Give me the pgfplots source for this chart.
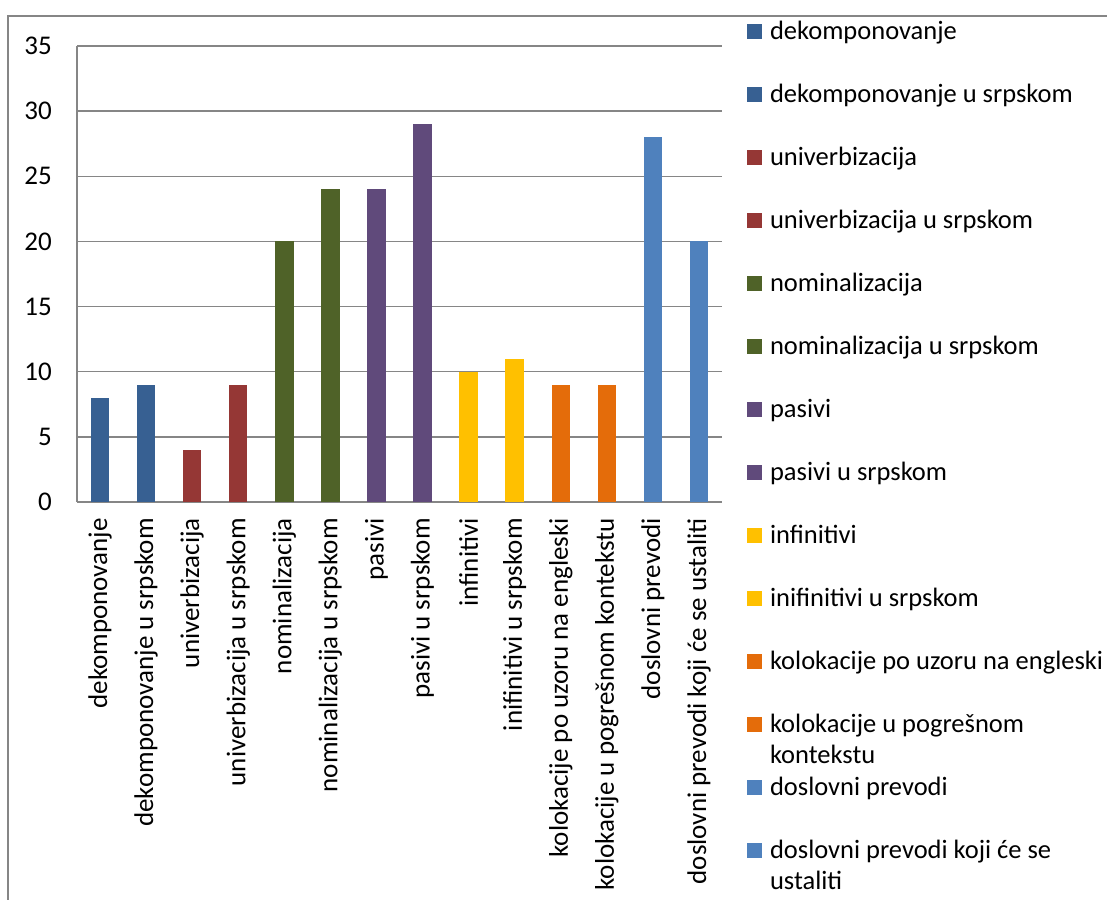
\documentclass[border=0pt]{standalone}
\usepackage{fontspec}
\setmainfont{Carlito}
\usepackage{pgfplots}
\pgfplotsset{compat=1.18}
\definecolor{cA}{RGB}{55,96,146}
\definecolor{cB}{RGB}{149,55,53}
\definecolor{cC}{RGB}{79,98,40}
\definecolor{cD}{RGB}{96,74,123}
\definecolor{cE}{RGB}{255,192,0}
\definecolor{cF}{RGB}{228,108,10}
\definecolor{cG}{RGB}{79,129,189}
\definecolor{gridc}{RGB}{134,134,134}
\newcommand{\cf}{\fontsize{27bp}{31bp}\selectfont}
\newcommand{\lf}{\fontsize{26.5bp}{31bp}\selectfont}
\begin{document}
\begin{tikzpicture}
\useasboundingbox (0,0) rectangle (1107bp,900bp);
\draw[gridc, line width=1.3bp] (8bp,0bp) -- (8bp,884bp) -- (1107bp,884bp);
\begin{axis}[
  at={(77bp,398bp)}, anchor=south west,
  scale only axis, width=645bp, height=456bp,
  ybar, bar width=0.4, bar shift=0pt,
  xmin=-0.5, xmax=13.5, ymin=0, ymax=35,
  ytick={0,5,...,35},
  xtick={0,...,13},
  xticklabels={dekomponovanje,dekomponovanje u srpskom,univerbizacija,univerbizacija u srpskom,nominalizacija,nominalizacija u srpskom,pasivi,pasivi u srpskom,infinitivi,inifinitivi u srpskom,kolokacije po uzoru na engleski,kolokacije u pogrešnom kontekstu,doslovni prevodi,doslovni prevodi koji će se ustaliti},
  axis lines*=left,
  axis line style={gridc, line width=1.3bp, -},
  ymajorgrids, grid style={gridc, line width=1.3bp},
  major tick length=0pt,
  /pgf/number format/assume math mode=true,
  every tick label/.append style={font=\cf, text=black},
  yticklabel style={inner sep=0pt, xshift=-25bp},
  xticklabel style={yshift=-16bp, rotate=90, anchor=east, inner sep=0pt},
  legend cell align=left,
  legend image code/.code={\fill[#1,draw=none] (0bp,0bp) rectangle (15bp,15bp);},
  legend style={at={(axis description cs:1.0388,1.0592)}, anchor=north west,
    draw=none, fill=none, inner sep=0pt, outer sep=0pt, font=\lf,
    row sep=0pt, column sep=8bp,
    nodes={inner sep=0pt, text height=20bp, text depth=43bp, anchor=base west}},
]
\addplot[fill=cA, draw=none] coordinates {(0,8)};
\addplot[fill=cA, draw=none] coordinates {(1,9)};
\addplot[fill=cB, draw=none] coordinates {(2,4)};
\addplot[fill=cB, draw=none] coordinates {(3,9)};
\addplot[fill=cC, draw=none] coordinates {(4,20)};
\addplot[fill=cC, draw=none] coordinates {(5,24)};
\addplot[fill=cD, draw=none] coordinates {(6,24)};
\addplot[fill=cD, draw=none] coordinates {(7,29)};
\addplot[fill=cE, draw=none] coordinates {(8,10)};
\addplot[fill=cE, draw=none] coordinates {(9,11)};
\addplot[fill=cF, draw=none] coordinates {(10,9)};
\addplot[fill=cF, draw=none] coordinates {(11,9)};
\addplot[fill=cG, draw=none] coordinates {(12,28)};
\addplot[fill=cG, draw=none] coordinates {(13,20)};
\legend{dekomponovanje,dekomponovanje u srpskom,univerbizacija,univerbizacija u srpskom,nominalizacija,nominalizacija u srpskom,pasivi,pasivi u srpskom,infinitivi,inifinitivi u srpskom,kolokacije po uzoru na engleski,{\vtop{\hbox{kolokacije u pogrešnom}\hbox{kontekstu}}},doslovni prevodi,{\vtop{\hbox{doslovni prevodi koji će se}\hbox{ustaliti}}}}
\end{axis}
\end{tikzpicture}
\end{document}
